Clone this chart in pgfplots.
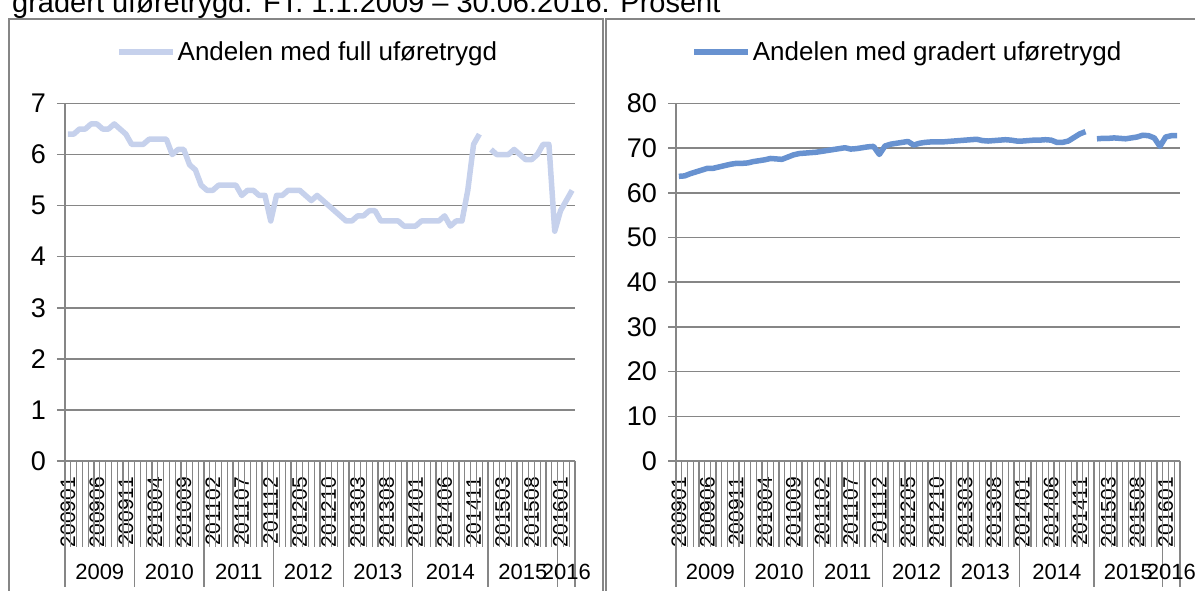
\documentclass[border=0pt]{standalone}
\usepackage{pgfplots}
\usepackage{pgfplotstable}
\pgfplotsset{compat=1.18}
\usepackage{fontspec}
\setmainfont{Liberation Sans}

\definecolor{gridgray}{RGB}{134,134,134}
\definecolor{fullblue}{RGB}{198,209,236}
\definecolor{gradblue}{RGB}{104,146,208}

% Share of disability benefit recipients, monthly 200901-201603 (one blank month)
\pgfplotstableread{
idx full gradert
0 6.4 63.7
1 6.4 63.8
2 6.5 64.3
3 6.5 64.7
4 6.6 65.1
5 6.6 65.5
6 6.5 65.5
7 6.5 65.8
8 6.6 66.1
9 6.5 66.4
10 6.4 66.6
11 6.2 66.6
12 6.2 66.7
13 6.2 67.0
14 6.3 67.2
15 6.3 67.4
16 6.3 67.7
17 6.3 67.6
18 6.0 67.5
19 6.1 68.0
20 6.1 68.5
21 5.8 68.8
22 5.7 68.9
23 5.4 69.0
24 5.3 69.1
25 5.3 69.3
26 5.4 69.5
27 5.4 69.7
28 5.4 69.9
29 5.4 70.1
30 5.2 69.8
31 5.3 69.9
32 5.3 70.1
33 5.2 70.3
34 5.2 70.4
35 4.7 68.6
36 5.2 70.5
37 5.2 70.9
38 5.3 71.1
39 5.3 71.3
40 5.3 71.5
41 5.2 70.7
42 5.1 71.1
43 5.2 71.3
44 5.1 71.4
45 5.0 71.4
46 4.9 71.4
47 4.8 71.5
48 4.7 71.6
49 4.7 71.7
50 4.8 71.8
51 4.8 71.9
52 4.9 72.0
53 4.9 71.7
54 4.7 71.6
55 4.7 71.7
56 4.7 71.8
57 4.7 71.9
58 4.6 71.8
59 4.6 71.6
60 4.6 71.6
61 4.7 71.7
62 4.7 71.8
63 4.7 71.8
64 4.7 71.9
65 4.8 71.8
66 4.6 71.3
67 4.7 71.3
68 4.7 71.6
69 5.3 72.4
70 6.2 73.2
71 6.4 73.7
72 nan nan
73 6.1 72.1
74 6.0 72.2
75 6.0 72.2
76 6.0 72.3
77 6.1 72.2
78 6.0 72.1
79 5.9 72.3
80 5.9 72.5
81 6.0 72.9
82 6.2 72.8
83 6.2 72.3
84 4.5 70.4
85 4.9 72.5
86 5.1 72.8
87 5.3 72.8
}\uforedata

\pgfplotsset{
  ufore/.style={
    scale only axis, height=357.5pt, clip=false,
    xmin=-0.5, xmax=87.5, ymin=0,
    axis lines=left, axis line style={-, gridgray, line width=1.5pt},
    ymajorgrids, grid style={gridgray, line width=1.5pt},
    tick align=outside, major tick length=8pt,
    ytick style={gridgray, line width=1.5pt}, xtick style={draw=none},
    xtick={0,5,...,85},
    xticklabels={200901,200906,200911,201004,201009,201102,201107,201112,201205,
      201210,201303,201308,201401,201406,201411,201503,201508,201601},
    xticklabel style={rotate=90, anchor=east, inner sep=0pt, xshift=-8pt,
      font=\fontsize{21}{24}\selectfont},
    yticklabel style={anchor=east, inner sep=0pt, xshift=-11pt,
      font=\fontsize{27}{30}\selectfont},
    /pgf/number format/assume math mode=true,
    unbounded coords=jump,
    legend style={anchor=west, draw=none, fill=none, inner sep=0pt,
      font=\fontsize{26}{30}\selectfont},
    legend image code/.code={\draw[#1] (0pt,0pt) -- (54pt,0pt);},
  },
}

\newcommand{\years}{%
  \pgfplotsinvokeforeach{-0.5,0.5,...,87.5}{
    \draw[gridgray, line width=1.2pt] (axis cs:##1,0) -- ++(0pt,-86pt);}
  \pgfplotsinvokeforeach{-0.5,11.5,23.5,35.5,47.5,59.5,72.5,84.5,87.5}{
    \draw[gridgray, line width=1.2pt] (axis cs:##1,0) -- ++(0pt,-126pt);}
  \node[inner sep=0pt, font=\fontsize{22}{26}\selectfont, yshift=-111pt] at (axis cs:5.5,0) {2009};
  \node[inner sep=0pt, font=\fontsize{22}{26}\selectfont, yshift=-111pt] at (axis cs:17.5,0) {2010};
  \node[inner sep=0pt, font=\fontsize{22}{26}\selectfont, yshift=-111pt] at (axis cs:29.5,0) {2011};
  \node[inner sep=0pt, font=\fontsize{22}{26}\selectfont, yshift=-111pt] at (axis cs:41.5,0) {2012};
  \node[inner sep=0pt, font=\fontsize{22}{26}\selectfont, yshift=-111pt] at (axis cs:53.5,0) {2013};
  \node[inner sep=0pt, font=\fontsize{22}{26}\selectfont, yshift=-111pt] at (axis cs:66,0) {2014};
  \node[inner sep=0pt, font=\fontsize{22}{26}\selectfont, yshift=-111pt] at (axis cs:78.5,0) {2015};
  \node[inner sep=0pt, font=\fontsize{22}{26}\selectfont, yshift=-111pt] at (axis cs:86,0) {2016};
}

\begin{document}
\begin{tikzpicture}
\path[use as bounding box] (0pt,0pt) rectangle (1195pt,591pt);
\coordinate (LA) at (65pt,130pt);
\coordinate (RA) at (676pt,130pt);
\node[anchor=base west, inner sep=0pt, font=\fontsize{29}{34}\selectfont] at (12pt,578pt)
  {gradert uføretrygd. FT. 1.1.2009 – 30.06.2016. Prosent};
\draw[gridgray, line width=2pt] (9pt,-10pt) -- (9pt,572pt) -- (603pt,572pt) -- (603pt,-10pt);
\draw[gridgray, line width=2pt] (606pt,-10pt) -- (606pt,572pt) -- (1205pt,572pt);

\begin{axis}[ufore, at={(LA)}, anchor=south west, width=510pt,
  ymax=7, ytick={0,...,7}, legend style={at={(0.100,1.144)}}]
\years
\addplot[fullblue, line width=5.5pt, line join=round] table[x=idx, y=full] {\uforedata};
\addlegendentry{Andelen med full uføretrygd}
\end{axis}

\begin{axis}[ufore, at={(RA)}, anchor=south west, width=504pt,
  ymax=80, ytick={0,10,...,80}, legend style={at={(0.030,1.144)}}]
\years
\addplot[gradblue, line width=5.5pt, line join=round] table[x=idx, y=gradert] {\uforedata};
\addlegendentry{Andelen med gradert uføretrygd}
\end{axis}
\end{tikzpicture}
\end{document}
